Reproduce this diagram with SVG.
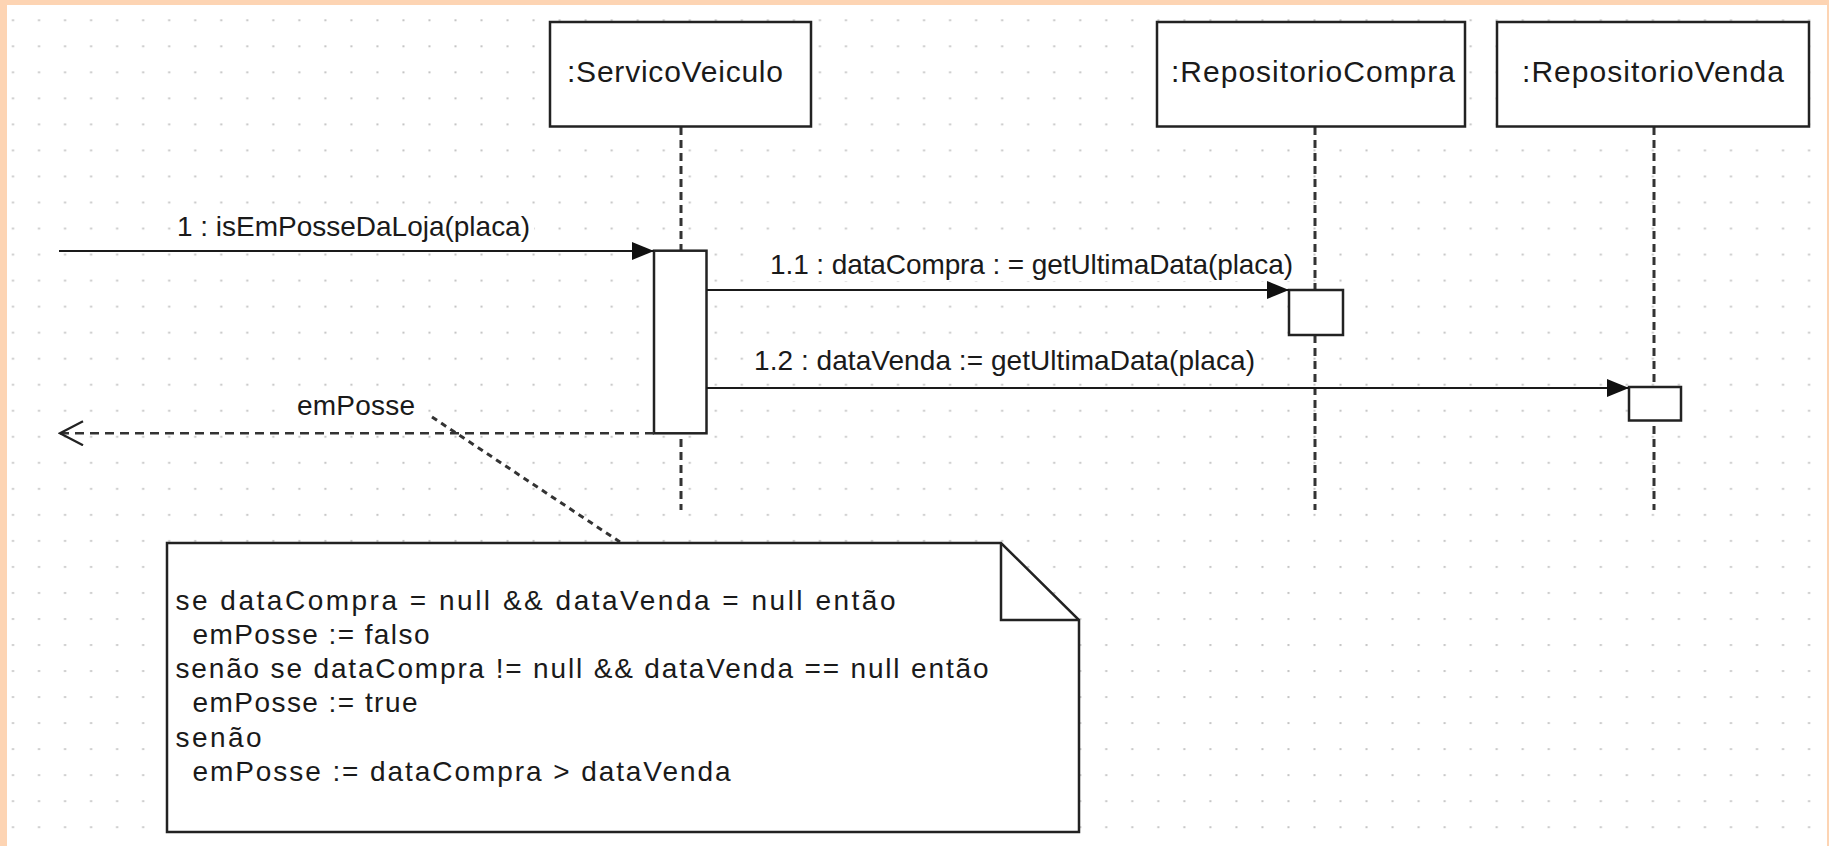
<svg xmlns="http://www.w3.org/2000/svg" width="1829" height="846" viewBox="0 0 1829 846">
  <defs>
    <pattern id="grid" x="0" y="0" width="26.03" height="26.03" patternUnits="userSpaceOnUse">
      <rect x="12" y="19.3" width="2" height="2" fill="#c4c4c4"/>
    </pattern>
    <marker id="filled" viewBox="0 0 22 18" refX="22" refY="9" markerWidth="22" markerHeight="18" markerUnits="userSpaceOnUse" orient="auto">
      <path d="M0,0 L22,9 L0,18 Z" fill="#111"/>
    </marker>
    <marker id="open" viewBox="0 0 26 26" refX="24" refY="13" markerWidth="26" markerHeight="26" markerUnits="userSpaceOnUse" orient="auto">
      <path d="M1,1 L24,13 L1,25" fill="none" stroke="#222" stroke-width="2.2"/>
    </marker>
  </defs>
  <style>
    .frame { fill: #fdd4b3; }
    .sheet { fill: #ffffff; }
    .box { fill: #ffffff; stroke: #222; stroke-width: 2.5; }
    .life { stroke: #333; stroke-width: 3; stroke-dasharray: 8 5; fill: none; }
    .msg { stroke: #1a1a1a; stroke-width: 2; fill: none; }
    .ret { stroke: #333; stroke-width: 2.5; stroke-dasharray: 9 6; fill: none; }
    .link { stroke: #333; stroke-width: 3; stroke-dasharray: 6 5; fill: none; }
    .note { fill: #ffffff; stroke: #222; stroke-width: 2.5; stroke-linejoin: miter; }
    .fold { fill: none; stroke: #222; stroke-width: 2.5; }
    .lbl-bg { fill: #ffffff; }
    text { font-family: "Liberation Sans", Arial, sans-serif; fill: #1a1a1a; }
    .head { font-size: 30px; }
    .t { font-size: 28px; }
  </style>

  <!-- page frame and dotted drawing grid -->
  <rect class="frame" x="0" y="0" width="1829" height="846"/>
  <rect class="sheet" x="7" y="5" width="1820" height="841"/>
  <rect x="7" y="5" width="1820" height="841" fill="url(#grid)"/>

  <!-- lifelines -->
  <g id="lifelines">
    <line class="life" x1="681" y1="127" x2="681" y2="510"/>
    <line class="life" x1="1315" y1="127" x2="1315" y2="510"/>
    <line class="life" x1="1654" y1="127" x2="1654" y2="510"/>
  </g>

  <!-- participants -->
  <g id="servicoVeiculo">
    <rect class="box" x="550" y="22" width="261" height="104.5"/>
    <text class="head" x="567" y="82" textLength="216">:ServicoVeiculo</text>
    <rect class="box" x="654" y="250.7" width="52.5" height="182.6"/>
  </g>
  <g id="repositorioCompra">
    <rect class="box" x="1157" y="22" width="308" height="104.5"/>
    <text class="head" x="1171" y="82" textLength="284">:RepositorioCompra</text>
    <rect class="box" x="1289" y="290" width="54" height="45"/>
  </g>
  <g id="repositorioVenda">
    <rect class="box" x="1497" y="22" width="312" height="104.5"/>
    <text class="head" x="1522" y="82" textLength="262">:RepositorioVenda</text>
    <rect class="box" x="1629" y="387" width="52" height="33.5"/>
  </g>

  <!-- messages -->
  <g id="connectors">
    <line class="msg" x1="59" y1="251" x2="654" y2="251" marker-end="url(#filled)"/>
    <line class="msg" x1="706.5" y1="290" x2="1289" y2="290" marker-end="url(#filled)"/>
    <line class="msg" x1="706.5" y1="388" x2="1629" y2="388" marker-end="url(#filled)"/>
    <line class="ret" x1="654" y1="433.3" x2="60" y2="433.3" marker-end="url(#open)"/>
    <line class="link" x1="432" y1="417" x2="620" y2="542"/>
  </g>

  <!-- message labels -->
  <g id="labels">
    <rect class="lbl-bg" x="173" y="213" width="361" height="30"/>
    <text class="t" x="177" y="236" textLength="353">1 : isEmPosseDaLoja(placa)</text>
    <rect class="lbl-bg" x="766" y="251" width="531" height="30"/>
    <text class="t" x="770" y="274" textLength="523">1.1 : dataCompra : = getUltimaData(placa)</text>
    <rect class="lbl-bg" x="750" y="347" width="509" height="30"/>
    <text class="t" x="754" y="370" textLength="501">1.2 : dataVenda := getUltimaData(placa)</text>
    <rect class="lbl-bg" x="293" y="392" width="126" height="30"/>
    <text class="t" x="297" y="415" textLength="118">emPosse</text>
  </g>

  <!-- note -->
  <g id="note">
    <path class="note" d="M167,543 L1001,543 L1079,620 L1079,832 L167,832 Z"/>
    <path class="fold" d="M1001,543 L1001,620 L1079,620"/>
    <text class="t" x="175.5" y="609.5" textLength="720">se dataCompra = null &amp;&amp; dataVenda = null então</text>
    <text class="t" x="192.5" y="643.8" textLength="237">emPosse := falso</text>
    <text class="t" x="175.5" y="678.1" textLength="813">senão se dataCompra != null &amp;&amp; dataVenda == null então</text>
    <text class="t" x="192.5" y="712.4" textLength="225">emPosse := true</text>
    <text class="t" x="175.5" y="746.7" textLength="86">senão</text>
    <text class="t" x="192.5" y="781" textLength="538">emPosse := dataCompra &gt; dataVenda</text>
  </g>
</svg>
